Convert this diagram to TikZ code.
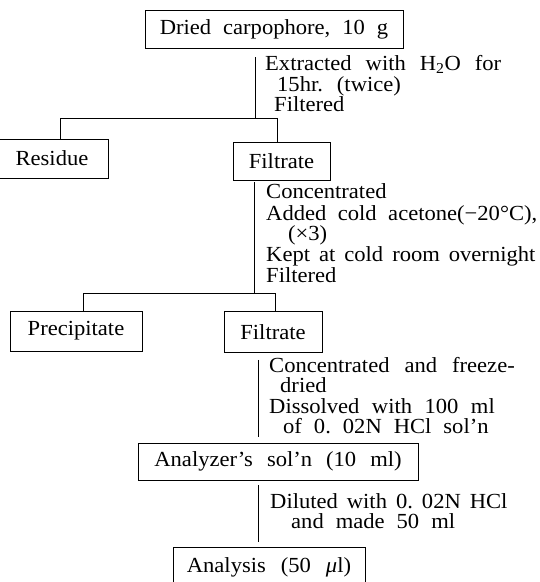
\documentclass[tikz,border=0pt]{standalone}
\usepackage{fontspec}
\setmainfont{Liberation Serif}[FakeStretch=1.05]
\newcommand\ws[1]{\spaceskip #1\relax}
\newcommand\diafont{\fontsize{21.5}{20.5}\selectfont\frenchspacing\spaceskip 12pt\relax}
\begin{document}
\begin{tikzpicture}[x=1pt,y=-1pt,
  every node/.style={font=\diafont, inner sep=0pt},
  box/.style={draw, line width=0.8pt},
  lbl/.style={anchor=base west},
  conn/.style={line width=0.8pt}]
\useasboundingbox (0,0) rectangle (540,582);
\clip (0,0) rectangle (540,582);
% boxes
\node[box, minimum width=258pt, minimum height=38pt] (dried) at (274,29) {Dried carpophore, 10 g};
\node[box, minimum width=112pt, minimum height=39pt] (res) at (52,158.5) {Residue};
\node[box, minimum width=97pt, minimum height=38pt] (filt1) at (281.5,161) {Filtrate};
\node[box, minimum width=132pt, minimum height=40pt] (prec) at (76,331) {Precipitate};
\node[box, minimum width=98pt, minimum height=41pt] (filt2) at (273,332) {Filtrate};
\node[box, minimum width=280pt, minimum height=37pt] (anz) at (278,461.5) {\ws{14pt}Analyzer’s sol’n (10 ml)};
\node[box, minimum width=192pt, minimum height=40pt] (ana) at (269,567) {\ws{15pt}Analysis (50 {\itshape μ}l)};
% labels
\node[lbl] (t1a) at (265,70.5) {\ws{14pt}Extracted with H\textsubscript{2}O for};
\node[lbl] (t1b) at (277,91) {\ws{14pt}15hr. (twice)};
\node[lbl] (t1c) at (274,111.5) {Filtered};
\node[lbl] (t2a) at (266,198.5) {Concentrated};
\node[lbl] (t2b) at (266,220) {\ws{11.5pt}Added cold acetone(−20°C),};
\node[lbl] (t2c) at (288,240.5) {(×3)};
\node[lbl] (t2d) at (266,261.5) {\ws{9pt}Kept at cold room overnight};
\node[lbl] (t2e) at (266,282.5) {Filtered};
\node[lbl] (t3a) at (269,372) {\ws{15pt}Concentrated and freeze-};
\node[lbl] (t3b) at (280,392.5) {dried};
\node[lbl] (t3c) at (269,413) {\ws{12.5pt}Dissolved with 100 ml};
\node[lbl] (t3d) at (283,433.5) {of 0. 02N HCl sol’n};
\node[lbl] (t4a) at (270,508) {\ws{9pt}Diluted with 0. 02N HCl};
\node[lbl] (t4b) at (291,528.5) {and made 50 ml};
% junctions
\coordinate (v1) at (255,118);
\coordinate (b1l) at (60,118);
\coordinate (b1r) at (277,118);
\coordinate (v2) at (254,293);
\coordinate (b2l) at (83,293);
\coordinate (b2r) at (275,293);
\coordinate (v3) at (258,437);
\coordinate (v4) at (258,542);
% connectors
\draw[conn] ([yshift=-9pt]dried.south -| v1) -- (v1);
\draw[conn] (b1l |- res.north) -- (b1l) -- (b1r) -- (b1r |- filt1.north);
\draw[conn] ([yshift=-2pt]filt1.south -| v2) -- (v2);
\draw[conn] (b2l |- prec.north) -- (b2l) -- (b2r) -- (b2r |- filt2.north);
\draw[conn] ([yshift=-7pt]filt2.south -| v3) -- (v3);
\draw[conn] ([yshift=-5pt]anz.south -| v4) -- (v4);
\end{tikzpicture}
\end{document}
